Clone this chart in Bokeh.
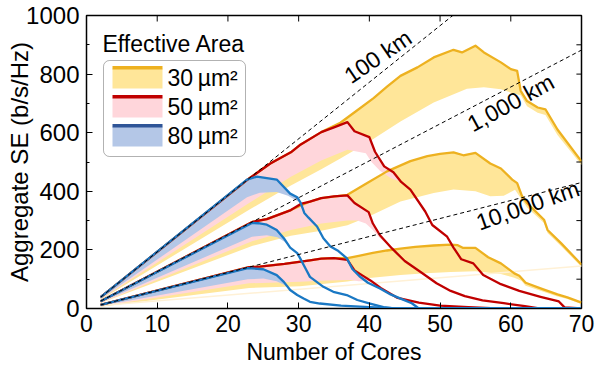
from bokeh.plotting import figure
from bokeh.models import Range1d, Label, BoxAnnotation, FixedTicker
from bokeh.embed import file_html
from bokeh.resources import INLINE

# ---------------- data ----------------
x_ticks = [0, 10, 20, 30, 40, 50, 60, 70]
y_ticks = [0, 200, 400, 600, 800, 1000]
y_minor = [100, 300, 500, 700, 900]

# 100 km
cores_b100 = [2, 22.7, 24.1, 26.9, 28.8, 29.8, 30.3, 30.8, 31.4, 32.6, 33.5, 34.5, 35.5, 36.8, 37.6, 38.6, 39.8, 41.5, 43, 44.5, 46, 47, 70]
se_b100 = [39, 440, 450, 440, 392, 380, 360, 326, 310, 280, 240, 212, 198, 172, 135, 110, 88, 68, 48, 33, 18, 0, 0]
low_x_b100 = [2, 22.7, 24.5, 26.9, 28.5, 30.3]
low_y_b100 = [33, 380, 395, 398, 385, 360]

cores_r100 = [2, 23, 26, 28.9, 30.3, 33.2, 35, 36.9, 37.9, 40, 40.8, 42.1, 43.4, 44.5, 45.8, 47.9, 48.9, 51, 51.9, 53, 54.7, 56.1, 58.6, 61.2, 64.2, 66.8, 67.6, 70]
se_r100 = [39, 444, 495, 533, 560, 602, 618, 636, 605, 585, 535, 485, 465, 432, 406, 331, 285, 245, 208, 168, 154, 114, 83, 60, 40, 24, 4, 0]
low_x_r100 = [2, 23, 28.9, 33.2, 36.9, 39.5, 40.3, 41.5, 43, 44.5]
low_y_r100 = [32, 360, 450, 505, 542, 530, 500, 470, 445, 432]

cores_y100 = [2, 23, 26, 28.9, 30.3, 33.2, 35.9, 38.2, 40.6, 42.5, 44.4, 46.8, 49.1, 51.9, 53.1, 55, 56.2, 58.6, 60, 60.9, 61.4, 62.3, 63.8, 64.9, 66.6, 70]
se_y100 = [39, 444, 495, 533, 560, 602, 634, 675, 718, 757, 794, 823, 857, 883, 874, 897, 874, 840, 817, 811, 743, 708, 686, 680, 611, 502]
low_x_y100 = [2, 23, 28.9, 33.2, 35.9, 40, 44.4, 49.1, 53.8, 56.2, 58.6, 60.5, 61.4, 62.3, 63.8, 64.9, 66.6, 70]
low_y_y100 = [30, 337, 420, 475, 512, 570, 638, 703, 750, 755, 748, 733, 728, 690, 668, 660, 592, 490]

# 1,000 km
cores_b1k = [2, 23.4, 24.3, 25.5, 26.9, 27.9, 28.8, 29.8, 30.2, 30.9, 31.6, 33.5, 34.9, 36.8, 38.3, 40.1, 42, 43.5, 70]
se_b1k = [25, 292, 291, 286, 268, 240, 208, 189, 172, 140, 108, 74, 57, 46, 29, 17, 5, 0, 0]
low_x_b1k = [2, 23.4, 25.5, 27.0, 28.0, 28.8]
low_y_b1k = [21, 245, 250, 243, 228, 208]

cores_r1k = [2, 23.5, 25.5, 28.9, 30.3, 31.6, 33.2, 35, 36.9, 37.9, 39.9, 40.5, 41.5, 43.2, 45, 47.4, 49.5, 51.5, 53.5, 56, 59, 62, 64, 70]
se_r1k = [25, 296, 305, 336, 357, 365, 377, 383, 386, 360, 329, 290, 250, 205, 162, 122, 86, 60, 42, 28, 18, 8, 0, 0]
low_x_r1k = [2, 23.5, 28.9, 33.2, 36.9, 38.3, 39.5, 40.5, 41.5, 43.2]
low_y_r1k = [20, 230, 268, 290, 300, 300, 290, 268, 240, 205]

cores_y1k = [2, 23.5, 25.5, 28.9, 31.6, 33.2, 36.9, 39.7, 42.5, 45.8, 48.2, 50, 51.9, 53.3, 55, 57.1, 58.6, 60.2, 60.9, 61.6, 62.3, 64.7, 65.2, 67.1, 70]
se_y1k = [25, 296, 305, 336, 365, 377, 388, 428, 468, 503, 520, 528, 533, 523, 531, 495, 478, 440, 428, 383, 360, 303, 268, 223, 150]
low_x_y1k = [2, 23.5, 28.9, 33.2, 36.9, 40, 44.4, 49.1, 51.9, 55, 57.1, 59, 60.6, 62.3, 64.7, 65.2, 67.1, 70]
low_y_y1k = [19, 214, 248, 265, 284, 315, 365, 394, 406, 400, 383, 385, 405, 345, 292, 258, 213, 142]

# 10,000 km
cores_b10k = [2, 22.8, 25.0, 26.9, 27.9, 28.8, 29.8, 30.7, 31.6, 33, 36, 40, 44, 70]
se_b10k = [12, 138, 134, 114, 91, 63, 46, 34, 23, 17, 10, 5, 0, 0]
low_x_b10k = [2, 22.8, 25, 26.9, 28.0, 28.8]
low_y_b10k = [9, 100, 102, 93, 80, 63]

cores_r10k = [2, 23, 24.5, 28, 31.6, 33.2, 35, 36.9, 37.9, 39, 40.2, 41.6, 44, 47, 50, 54, 58, 70]
se_r10k = [12, 141, 143, 152, 164, 170, 172, 166, 130, 113, 95, 70, 36, 20, 10, 5, 0, 0]
low_x_r10k = [2, 23, 28, 30.2, 33.2, 36.9, 37.6, 38.5, 40.2]
low_y_r10k = [8, 86, 90, 91, 95, 97, 96, 93, 95]

cores_y10k = [2, 23, 24.5, 28, 31.6, 33.2, 35, 36.9, 38.5, 40.5, 42.5, 44.4, 46.5, 49.1, 51.5, 52.5, 53.2, 55, 56.8, 58.6, 60.5, 61.2, 62.1, 64.5, 66.6, 68, 70]
se_y10k = [12, 141, 143, 152, 164, 170, 172, 172, 180, 190, 198, 204, 210, 215, 218, 216, 207, 207, 175, 154, 120, 112, 88, 66, 48, 38, 20]
low_x_y10k = [2, 23, 30.2, 36.9, 40, 44.4, 48, 51.5, 55, 58.6, 60.5, 61.5, 62.1, 64.5, 66.6, 68, 70]
low_y_y10k = [6, 70, 76, 92, 104, 114, 120, 125, 127, 118, 105, 95, 78, 58, 41, 32, 15]

faint_x = [2, 70]
faint_y = [10, 145]

# reference (linear) lines per distance
dash_x100 = [2, 51.8]
dash_y100 = [38.6, 1000]
dash_x1k = [2, 70]
dash_y1k = [25.2, 882]
dash_x10k = [2, 70]
dash_y10k = [12.3, 430]

areas = ["30", "50", "80"]
distance_labels = ["100 km", "1,000 km", "10,000 km"]

# ---------------- style ----------------
FONT = "Liberation Sans"
LINE = {"30": "#EDB120", "50": "#C00000", "80": "#1A78C4"}
FILL = {"30": "#FFE699", "50": "#FFD6DB", "80": "#B4C7E7"}
LEG_LINE = {"30": "#EDB120", "50": "#C00000", "80": "#2F5597"}

series = {
    "30": [(cores_y100, se_y100, low_x_y100, low_y_y100),
           (cores_y1k, se_y1k, low_x_y1k, low_y_y1k),
           (cores_y10k, se_y10k, low_x_y10k, low_y_y10k)],
    "50": [(cores_r100, se_r100, low_x_r100, low_y_r100),
           (cores_r1k, se_r1k, low_x_r1k, low_y_r1k),
           (cores_r10k, se_r10k, low_x_r10k, low_y_r10k)],
    "80": [(cores_b100, se_b100, low_x_b100, low_y_b100),
           (cores_b1k, se_b1k, low_x_b1k, low_y_b1k),
           (cores_b10k, se_b10k, low_x_b10k, low_y_b10k)],
}


def band(ux, uy, lx, ly):
    xs = [x for x in ux if x <= lx[-1]]
    ys = uy[:len(xs)]
    return xs + lx[::-1], ys + ly[::-1]


# frame geometry (pixels) used for layout of annotations
FL, FR, FT, FB = 86, 581, 15, 308


def fx(px):
    return (px - FL) * 70 / (FR - FL)


def fy(py):
    return (FB - py) * 1000 / (FB - FT)


p = figure(width=596, height=374, output_backend="svg", toolbar_location=None,
           x_range=Range1d(0, 70), y_range=Range1d(0, 1000),
           min_border_left=FL, min_border_right=596 - FR, min_border_top=FT,
           min_border_bottom=374 - FB)
p.grid.visible = False
p.outline_line_color = "black"
p.outline_line_width = 1.5
p.background_fill_color = "white"
p.border_fill_color = "white"

# fills
for a in areas:
    for ux, uy, lx, ly in series[a]:
        bx, by = band(ux, uy, lx, ly)
        p.patch(bx, by, fill_color=FILL[a], line_color=None)

p.line(faint_x, faint_y, line_color="#FFF1D6", line_width=1.5)

# lines
for a in areas:
    for ux, uy, lx, ly in series[a]:
        p.line(ux, uy, line_color=LINE[a], line_width=2.3, line_join="round")

for dx, dy in [(dash_x100, dash_y100), (dash_x1k, dash_y1k), (dash_x10k, dash_y10k)]:
    p.line(dx, dy, line_color="black", line_width=1, line_dash="4 3")

# axes
for ax in (p.xaxis[0], p.yaxis[0]):
    ax.major_tick_in = 6
    ax.major_tick_out = 0
    ax.minor_tick_in = 3
    ax.minor_tick_out = 0
    ax.major_tick_line_color = "black"
    ax.minor_tick_line_color = "black"
    ax.axis_line_color = "black"
    ax.major_label_text_font = FONT
    ax.major_label_text_color = "black"
    ax.axis_label_text_font = FONT
    ax.axis_label_text_font_style = "normal"
    ax.axis_label_text_color = "black"
p.xaxis.major_label_text_font_size = "23px"
p.xaxis.axis_label_text_font_size = "23px"
p.yaxis.major_label_text_font_size = "24px"
p.yaxis.axis_label_text_font_size = "24px"
p.xaxis.ticker = FixedTicker(ticks=x_ticks, minor_ticks=[])
p.yaxis.ticker = FixedTicker(ticks=y_ticks, minor_ticks=y_minor)
p.xaxis.axis_label = "Number of Cores"
p.yaxis.axis_label = "Aggregate SE (b/s/Hz)"
p.xaxis.major_label_standoff = 6
p.xaxis.axis_label_standoff = 4
p.yaxis.major_label_standoff = 7
p.yaxis.axis_label_standoff = -10

# ticks on top and right frame edges
tick_len_x = 6 * 70 / (FR - FL)
tick_len_y = 6 * 1000 / (FB - FT)
top_t = x_ticks[1:-1]
p.segment(x0=top_t, y0=[1000] * len(top_t), x1=top_t, y1=[1000 - tick_len_y] * len(top_t),
          line_color="black", line_width=1)
right_t = sorted(y_ticks[1:-1] + y_minor)
p.segment(x0=[70] * len(right_t), y0=right_t, x1=[70 - tick_len_x * 0.85] * len(right_t),
          y1=right_t, line_color="black", line_width=1)

# distance labels
for txt, (lx, ly, ang) in zip(distance_labels,
                              [(41.2, 860, 0.60), (60.0, 702, 0.50), (62.4, 352, 0.34)]):
    p.add_layout(Label(x=lx, y=ly, text=txt, angle=ang, text_align="center",
                       text_baseline="middle", text_font=FONT, text_font_size="23px",
                       text_color="black"))

# legend (drawn manually)
p.add_layout(Label(x=fx(102), y=fy(43), text="Effective Area", text_baseline="middle",
                   text_font=FONT, text_font_size="23px", text_color="black"))
p.add_layout(BoxAnnotation(left=fx(103), right=fx(245), top=fy(60), bottom=fy(156),
                           fill_color="white", fill_alpha=1, line_color="black",
                           line_width=1, border_radius=6))
for i, a in enumerate(areas):
    off = 29 * i
    p.add_layout(BoxAnnotation(left=fx(112), right=fx(162), top=fy(68 + off), bottom=fy(88 + off),
                               fill_color=FILL[a], fill_alpha=1, line_color=None))
    p.add_layout(BoxAnnotation(left=fx(112), right=fx(162), top=fy(65.5 + off), bottom=fy(69 + off),
                               fill_color=LEG_LINE[a], fill_alpha=1, line_color=None))
    p.add_layout(Label(x=fx(167), y=fy(77 + off), text=a + "\u2009\u00b5m\u00b2",
                       text_baseline="middle", text_font=FONT, text_font_size="23px",
                       text_color="black"))

open("out.html", "w").write(file_html(p, INLINE))
